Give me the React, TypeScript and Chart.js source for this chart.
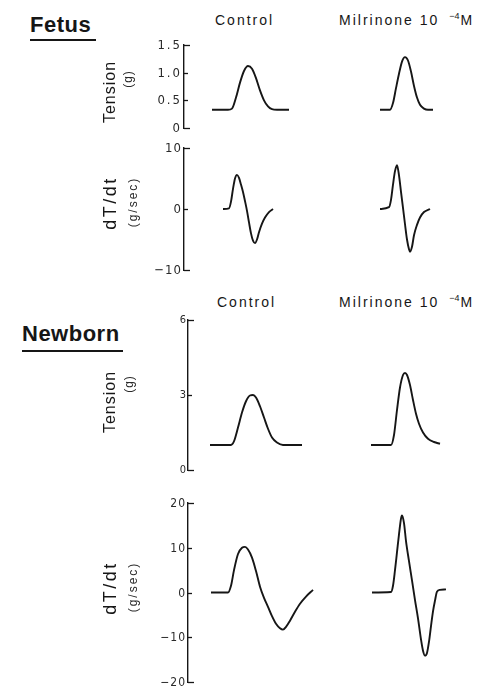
import React, { useEffect, useRef } from 'react';
import { Chart, registerables } from 'chart.js';

Chart.register(...registerables);

// ---------------- data (time in ms, arbitrary origin) ----------------
const fetusTensionControlTime = [124, 156, 164, 172, 180, 188, 196, 204, 212, 220, 228, 236, 244, 254, 278];
const fetusTensionControl = [0.33, 0.33, 0.35, 0.55, 0.82, 1.03, 1.12, 1.07, 0.9, 0.68, 0.5, 0.39, 0.34, 0.33, 0.33];
const fetusTensionMilrinoneTime = [460, 480, 486, 492, 498, 504, 510, 516, 522, 528, 534, 540, 548, 556, 566];
const fetusTensionMilrinone = [0.33, 0.33, 0.45, 0.72, 0.98, 1.2, 1.28, 1.22, 1.02, 0.76, 0.55, 0.42, 0.35, 0.33, 0.33];

const fetusDtControlTime = [146, 158, 162, 166, 170, 174, 178, 182, 186, 190, 194, 198, 202, 206, 210, 214, 218, 224, 230, 238, 246];
const fetusDtControl = [0, 0.1, 1.2, 3.3, 5.0, 5.6, 5.1, 4.0, 2.8, 1.3, -0.3, -2.2, -4.0, -5.2, -5.6, -5.0, -3.8, -2.4, -1.4, -0.5, 0];
const fetusDtMilrinoneTime = [460, 478, 482, 486, 490, 494, 498, 502, 506, 510, 514, 518, 520, 524, 528, 534, 540, 548, 560];
const fetusDtMilrinone = [0, 0.3, 1.5, 4.0, 6.2, 7.2, 5.5, 2.8, 0.2, -2.5, -5.0, -6.6, -7.0, -6.2, -4.3, -2.6, -1.4, -0.5, 0];

const newbornTensionControlTime = [120, 162, 168, 176, 184, 192, 200, 206, 212, 220, 228, 236, 244, 254, 266, 304];
const newbornTensionControl = [1.0, 1.0, 1.15, 1.7, 2.3, 2.75, 2.98, 3.0, 2.9, 2.55, 2.1, 1.65, 1.3, 1.1, 1.0, 1.0];
const newbornTensionMilrinoneTime = [442, 482, 488, 494, 500, 506, 510, 514, 520, 526, 532, 538, 546, 556, 568, 580];
const newbornTensionMilrinone = [1.0, 1.0, 1.4, 2.4, 3.3, 3.8, 3.88, 3.8, 3.4, 2.8, 2.25, 1.85, 1.5, 1.25, 1.12, 1.05];

const newbornDtControlTime = [122, 156, 162, 168, 176, 184, 190, 196, 204, 212, 220, 228, 236, 244, 252, 260, 266, 272, 280, 290, 300, 312, 326];
const newbornDtControl = [0, 0, 1.5, 5.0, 8.6, 10.0, 10.2, 9.6, 7.8, 4.8, 1.3, -1.2, -3.2, -5.3, -7.0, -8.0, -8.3, -7.7, -6.3, -4.3, -2.5, -0.9, 0.6];
const newbornDtMilrinoneTime = [444, 482, 486, 490, 494, 498, 502, 504, 508, 512, 518, 524, 530, 536, 542, 546, 550, 554, 558, 562, 566, 570, 574, 580, 592];
const newbornDtMilrinone = [0, 0.1, 1.5, 5.0, 9.0, 13.0, 16.5, 17.2, 15.5, 11.5, 7.0, 2.7, -1.7, -5.8, -10.5, -13.0, -14.1, -13.5, -11.0, -7.5, -4.2, -1.8, 0.2, 0.6, 0.7];

// ---------------- tick labels ----------------
const fetusTensionTicks = [0, 0.5, 1.0, 1.5];
const fetusTensionTickLabels = ['0', '0.5', '1.0', '1.5'];
const fetusDtTicks = [-10, 0, 10];
const fetusDtTickLabels = ['\u221210', '0', '10'];
const newbornTensionTicks = [0, 3, 6];
const newbornTensionTickLabels = ['0', '3', '6'];
const newbornDtTicks = [-20, -10, 0, 10, 20];
const newbornDtTickLabels = ['\u221220', '\u221210', '0', '10', '20'];

const groupLabels = ['Fetus', 'Newborn'];
const columnLabels = ['Control', 'Milrinone 10'];
const concentrationExponent = '\u22124';
const concentrationUnit = 'M';

const INK = '#161616';
const SANS = "'Liberation Sans', Arial, Helvetica, sans-serif";
const NARROW = "'Liberation Sans Narrow', 'DejaVu Sans Condensed', 'Liberation Sans', sans-serif";
const PAGE_W = 481;
const T_AT_RIGHT = 662;

type Series = { t: number[]; v: number[] };
type PanelProps = {
  top: number;
  height: number;
  padTop: number;
  padBottom: number;
  axisX: number;
  xMin: number;
  yMin: number;
  yMax: number;
  ticks: number[];
  tickLabels: string[];
  tickFont: number;
  tickSpacing: number;
  series: Series[];
  title: string;
  unit: string;
  titleX: number;
  titleY: number;
  unitX: number;
  unitY: number;
  titleFont: number;
  titleSpacing: number;
  unitFont: number;
  unitSpacing: number;
};

function Panel(p: PanelProps) {
  const ref = useRef<HTMLCanvasElement>(null);
  useEffect(() => {
    const canvas = ref.current;
    if (!canvas) return;
    const decor = {
      id: 'decor',
      afterDraw(chart: any) {
        const { ctx, chartArea } = chart;
        const ys = chart.scales.y;
        const n = ys.ticks.length;
        ctx.save();
        ctx.strokeStyle = INK;
        ctx.lineWidth = 1.3;
        ys.ticks.forEach((tk: any, i: number) => {
          const py = Math.round(ys.getPixelForValue(tk.value)) + 0.5;
          const len = i === 0 || i === n - 1 ? 6 : 4;
          ctx.beginPath();
          ctx.moveTo(chartArea.left, py);
          ctx.lineTo(chartArea.left + len, py);
          ctx.stroke();
          ctx.fillStyle = '#2a2a2a';
          ctx.font = `${p.tickFont}px ${NARROW}`;
          ctx.textAlign = 'right';
          ctx.textBaseline = 'middle';
          (ctx as any).letterSpacing = `${p.tickSpacing}px`;
          ctx.fillText(p.tickLabels[i], chartArea.left - 2, py);
        });
        ctx.fillStyle = INK;
        ctx.textAlign = 'center';
        ctx.textBaseline = 'middle';
        ctx.save();
        ctx.translate(p.titleX, p.titleY - p.top);
        ctx.rotate(-Math.PI / 2);
        ctx.font = `${p.titleFont}px ${SANS}`;
        (ctx as any).letterSpacing = `${p.titleSpacing}px`;
        ctx.fillText(p.title, 0, 0);
        ctx.restore();
        ctx.save();
        ctx.translate(p.unitX, p.unitY - p.top);
        ctx.rotate(-Math.PI / 2);
        ctx.font = `${p.unitFont}px ${SANS}`;
        (ctx as any).letterSpacing = `${p.unitSpacing}px`;
        ctx.fillStyle = '#2a2a2a';
        ctx.fillText(p.unit, 0, 0);
        ctx.restore();
        ctx.restore();
      },
    };
    const chart = new Chart(canvas, {
      type: 'line',
      data: {
        datasets: p.series.map((s) => ({
          data: s.t.map((t, i) => ({ x: t, y: s.v[i] })),
          borderColor: INK,
          borderWidth: 1.9,
          pointRadius: 0,
          fill: false,
          cubicInterpolationMode: 'monotone' as const,
        })),
      },
      options: {
        animation: false,
        responsive: false,
        maintainAspectRatio: false,
        devicePixelRatio: 1,
        layout: { padding: { top: p.padTop, bottom: p.padBottom, left: 0, right: 0 } },
        plugins: { legend: { display: false }, tooltip: { enabled: false }, title: { display: false } },
        scales: {
          x: { type: 'linear', display: false, min: p.xMin, max: T_AT_RIGHT },
          y: {
            type: 'linear',
            min: p.yMin,
            max: p.yMax,
            afterFit: (s: any) => {
              s.width = p.axisX;
            },
            afterBuildTicks: (s: any) => {
              s.ticks = p.ticks.map((v) => ({ value: v }));
            },
            ticks: { display: false },
            grid: { display: false, drawTicks: false },
            border: { display: true, color: INK, width: 1.4 },
          },
        },
      },
      plugins: [decor],
    } as any);
    return () => chart.destroy();
  }, []);
  return (
    <canvas
      ref={ref}
      width={PAGE_W}
      height={p.height}
      style={{ position: 'absolute', left: 0, top: p.top, width: PAGE_W, height: p.height }}
    />
  );
}

function GroupLabel({ text, left, top, lineY, lineW }: { text: string; left: number; top: number; lineY: number; lineW: number }) {
  return (
    <>
      <div style={{ position: 'absolute', left, top, fontSize: 22, fontWeight: 'bold', letterSpacing: 0.5, lineHeight: 1, whiteSpace: 'nowrap' }}>
        {text}
      </div>
      <div style={{ position: 'absolute', left, top: lineY, width: lineW, height: 1.5, background: INK }} />
    </>
  );
}

function ColumnHeaders({ top, controlLeft, milLeft }: { top: number; controlLeft: number; milLeft: number }) {
  const st: React.CSSProperties = { position: 'absolute', top, fontSize: 14, letterSpacing: 2, lineHeight: 1, whiteSpace: 'nowrap' };
  return (
    <>
      <div style={{ ...st, left: controlLeft }}>{columnLabels[0]}</div>
      <div style={{ ...st, left: milLeft }}>
        {columnLabels[1]}
        <span style={{ fontSize: 9, position: 'relative', top: -6, marginLeft: 10, marginRight: 1, letterSpacing: 0 }}>{concentrationExponent}</span>
        {concentrationUnit}
      </div>
    </>
  );
}

const FETUS_AXIS = 184;
const NEWBORN_AXIS = 188;
const tFromAxis = (axisX: number) => (axisX - 150) * 2;

export default function App() {
  return (
    <div
      style={{
        position: 'absolute',
        left: 0,
        top: 0,
        width: PAGE_W,
        height: 690,
        overflow: 'hidden',
        background: '#fff',
        fontFamily: SANS,
        color: INK,
      }}
    >
      <GroupLabel text={groupLabels[0]} left={30} top={14} lineY={39} lineW={66} />
      <GroupLabel text={groupLabels[1]} left={22} top={323} lineY={350} lineW={101} />
      <ColumnHeaders top={13} controlLeft={215} milLeft={339} />
      <ColumnHeaders top={295} controlLeft={217} milLeft={339} />

      <Panel
        top={35}
        height={103}
        padTop={10}
        padBottom={10}
        axisX={FETUS_AXIS}
        xMin={tFromAxis(FETUS_AXIS)}
        yMin={0}
        yMax={1.5}
        ticks={fetusTensionTicks}
        tickLabels={fetusTensionTickLabels}
        tickFont={13}
        tickSpacing={2}
        series={[
          { t: fetusTensionControlTime, v: fetusTensionControl },
          { t: fetusTensionMilrinoneTime, v: fetusTensionMilrinone },
        ]}
        title="Tension"
        unit="(g)"
        titleX={111}
        titleY={92}
        unitX={129}
        unitY={79}
        titleFont={16}
        titleSpacing={1}
        unitFont={12}
        unitSpacing={1}
      />
      <Panel
        top={138}
        height={142}
        padTop={10}
        padBottom={10}
        axisX={FETUS_AXIS}
        xMin={tFromAxis(FETUS_AXIS)}
        yMin={-10}
        yMax={10}
        ticks={fetusDtTicks}
        tickLabels={fetusDtTickLabels}
        tickFont={13}
        tickSpacing={1}
        series={[
          { t: fetusDtControlTime, v: fetusDtControl },
          { t: fetusDtMilrinoneTime, v: fetusDtMilrinone },
        ]}
        title="dT/dt"
        unit="(g/sec)"
        titleX={111}
        titleY={203}
        unitX={134}
        unitY={202}
        titleFont={18}
        titleSpacing={2.5}
        unitFont={12}
        unitSpacing={2}
      />
      <Panel
        top={310}
        height={170}
        padTop={10}
        padBottom={10}
        axisX={NEWBORN_AXIS}
        xMin={tFromAxis(NEWBORN_AXIS)}
        yMin={0}
        yMax={6}
        ticks={newbornTensionTicks}
        tickLabels={newbornTensionTickLabels}
        tickFont={11}
        tickSpacing={0}
        series={[
          { t: newbornTensionControlTime, v: newbornTensionControl },
          { t: newbornTensionMilrinoneTime, v: newbornTensionMilrinone },
        ]}
        title="Tension"
        unit="(g)"
        titleX={111}
        titleY={402}
        unitX={130}
        unitY={384}
        titleFont={16}
        titleSpacing={1}
        unitFont={12}
        unitSpacing={1}
      />
      <Panel
        top={493}
        height={196}
        padTop={10}
        padBottom={7}
        axisX={NEWBORN_AXIS}
        xMin={tFromAxis(NEWBORN_AXIS)}
        yMin={-20}
        yMax={20}
        ticks={newbornDtTicks}
        tickLabels={newbornDtTickLabels}
        tickFont={12}
        tickSpacing={1}
        series={[
          { t: newbornDtControlTime, v: newbornDtControl },
          { t: newbornDtMilrinoneTime, v: newbornDtMilrinone },
        ]}
        title="dT/dt"
        unit="(g/sec)"
        titleX={111}
        titleY={588}
        unitX={134}
        unitY={587}
        titleFont={18}
        titleSpacing={2.5}
        unitFont={12}
        unitSpacing={2}
      />
    </div>
  );
}
